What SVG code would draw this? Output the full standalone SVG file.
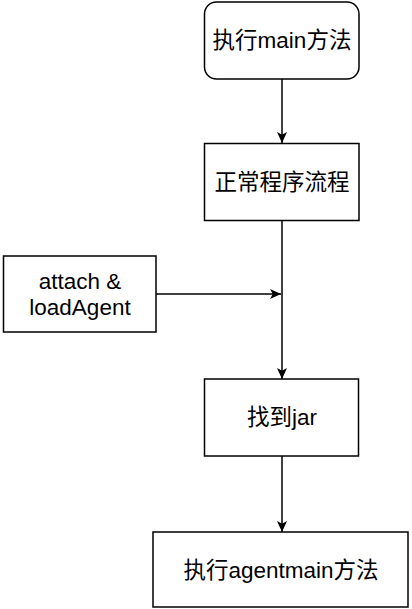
<svg xmlns="http://www.w3.org/2000/svg" width="412" height="609" viewBox="0 0 412 609">
<style>
.box{fill:#fff;stroke:#000;stroke-width:1.5}
.t{font-family:"Liberation Sans","Noto Sans CJK SC",sans-serif;font-size:22.5px;fill:#000;text-anchor:middle}
.c{stroke:#000;stroke-width:1.5;fill:none}
</style>
<defs>
<marker id="ah" viewBox="0 0 10 10" refX="10" refY="5" markerWidth="11" markerHeight="10" orient="auto" markerUnits="userSpaceOnUse" preserveAspectRatio="none">
<path d="M0,0 L10,5 L0,10 L2.5,5 Z" fill="#000"/>
</marker>
</defs>
<g id="connectors">
<line class="c" x1="282" y1="79" x2="282" y2="143" marker-end="url(#ah)"/>
<line class="c" x1="282" y1="220" x2="282" y2="379" marker-end="url(#ah)"/>
<line class="c" x1="156" y1="294" x2="281" y2="294" marker-end="url(#ah)"/>
<line class="c" x1="282" y1="456" x2="282" y2="532" marker-end="url(#ah)"/>
</g>
<g id="node-main">
<rect class="box" x="204.5" y="2" width="154.5" height="77" rx="12"/>
<text class="t" x="282" y="48">执行main方法</text>
</g>
<g id="node-normal">
<rect class="box" x="204.5" y="143.5" width="154.5" height="77"/>
<text class="t" x="282" y="190">正常程序流程</text>
</g>
<g id="node-attach">
<rect class="box" x="3.5" y="256" width="152.5" height="76"/>
<text class="t" x="80" y="289">attach &amp;</text>
<text class="t" x="80" y="315">loadAgent</text>
</g>
<g id="node-jar">
<rect class="box" x="204.5" y="379" width="154" height="77"/>
<text class="t" x="282" y="425">找到jar</text>
</g>
<g id="node-agentmain">
<rect class="box" x="153" y="532" width="255" height="75"/>
<text class="t" x="281" y="578">执行agentmain方法</text>
</g>
</svg>
